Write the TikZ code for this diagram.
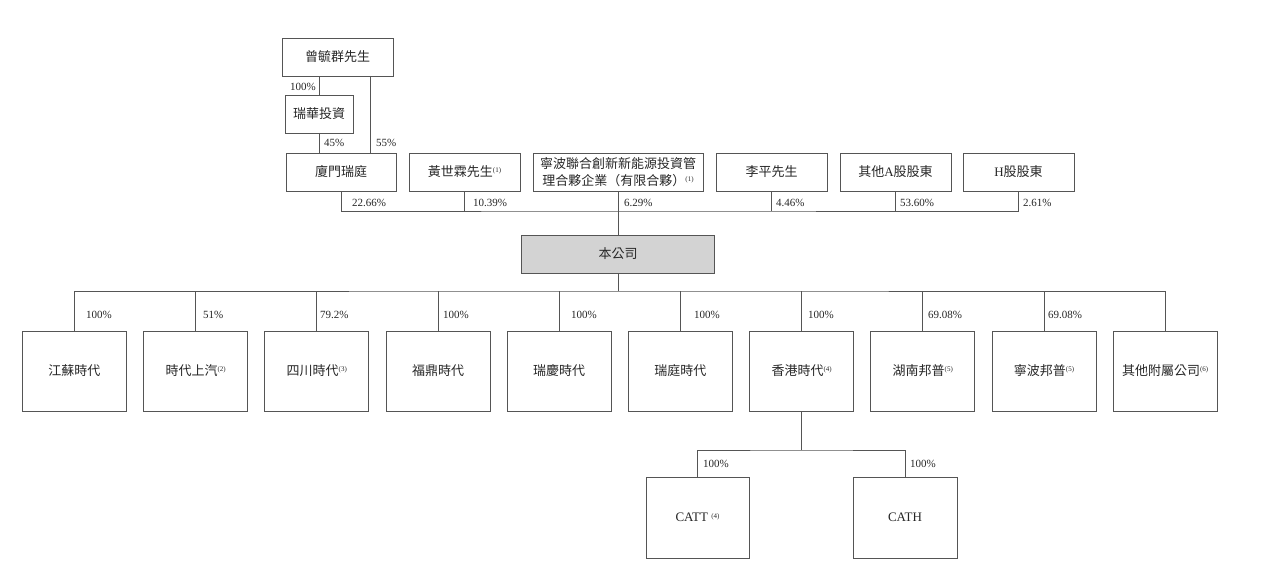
\documentclass[tikz,border=0pt]{standalone}
\usepackage{fontspec}
\setmainfont{Liberation Serif}
\newfontfamily\cjk{Noto Sans CJK TC}
\usetikzlibrary{positioning}
\newcommand{\fnote}[1]{\raisebox{0.6ex}{\rmfamily\fontsize{7}{7}\selectfont(#1)}}
\newcommand{\lat}[1]{{\rmfamily #1}}
\definecolor{linegray}{HTML}{555555}
\definecolor{boxgray}{HTML}{D3D3D3}
\tikzset{
holder/.style={
  draw=linegray,
  line width=0.9pt,
  rectangle,
  inner sep=0pt, outer sep=0pt,
  minimum height=38pt,
  minimum width=111pt, align=center,
  text=black!85,
  font=\cjk\fontsize{13}{17}\selectfont
  },
sub/.style={holder, minimum width=104pt, minimum height=80pt},
pct/.style={inner sep=0pt, anchor=west, text=black!85, font=\fontsize{11}{13}\selectfont},
line/.style={draw=linegray, line width=0.9pt}
}
\begin{document}
\begin{tikzpicture}[x=1pt, y=-1pt]
\useasboundingbox (0,0) rectangle (1280,583);

% shareholders
\node[holder]	(zyq)	at (337.5,57)	{曾毓群先生};
\node[holder, minimum width=68pt]	(rhtz)	at (319,114)	{瑞華投資};
\node[holder, minimum width=110pt]	(xmrt)	at (341,172)	{廈門瑞庭};
\node[holder]	(hsl)	[right=13pt of xmrt]	{黃世霖先生\fnote{1}};
\node[holder, minimum width=170pt]	(nblh)	[right=13pt of hsl]	{寧波聯合創新新能源投資管\\理合夥企業（有限合夥）\fnote{1}};
\node[holder]	(lp)	[right=13pt of nblh]	{李平先生};
\node[holder]	(qta)	[right=13pt of lp]	{其他\lat{A}股股東};
\node[holder]	(hgd)	[right=12pt of qta]	{\lat{H}股股東};

\node[holder, fill=boxgray, minimum width=193pt]	(company)	at (618,254)	{本公司};

% subsidiaries
\node[sub]	(js)	at (74.4,371)	{江蘇時代};
\node[sub]	(sdsq)	[right=17.2pt of js]	{時代上汽\fnote{2}};
\node[sub]	(scsd)	[right=17.2pt of sdsq]	{四川時代\fnote{3}};
\node[sub]	(fdsd)	[right=17.2pt of scsd]	{福鼎時代};
\node[sub]	(rqsd)	[right=17.2pt of fdsd]	{瑞慶時代};
\node[sub]	(rtsd)	[right=17.2pt of rqsd]	{瑞庭時代};
\node[sub]	(xgsd)	[right=17.2pt of rtsd]	{香港時代\fnote{4}};
\node[sub]	(hnbp)	[right=17.2pt of xgsd]	{湖南邦普\fnote{5}};
\node[sub]	(nbbp)	[right=17.2pt of hnbp]	{寧波邦普\fnote{5}};
\node[sub]	(qtfs)	[right=17.2pt of nbbp]	{其他附屬公司\fnote{6}};

\node[sub, minimum width=103pt, minimum height=81pt, font=\fontsize{13}{17}\selectfont]	(catt)	at (697.5,517.5)	{CATT \fnote{4}};
\node[sub, minimum height=81pt, font=\fontsize{13}{17}\selectfont]	(cath)	[right=104pt of catt]	{CATH};

\path (nblh.south) ++(0,20) coordinate (sbar);
\path (company.south) ++(0,18) coordinate (subbar);
\path (xgsd.south) ++(0,39) coordinate (hkbar);

\draw[line] (rhtz.north) -- (rhtz.north |- zyq.south);
\draw[line] ([xshift=32.5pt]zyq.south) -- ([xshift=32.5pt]zyq.south |- xmrt.north);
\draw[line] (rhtz.south) -- (rhtz.south |- xmrt.north);
\draw[line] (xmrt.south) |- (sbar) -| (hgd.south);
\draw[line] (hsl.south) -- (hsl.south |- sbar);
\draw[line] (lp.south) -- (lp.south |- sbar);
\draw[line] (qta.south) -- (qta.south |- sbar);
\draw[line] (nblh.south) -- (company.north);
\draw[line] (company.south) -- (subbar);
\draw[line] (js.north) |- (subbar) -| (qtfs.north);
\draw[line] (sdsq.north) -- (sdsq.north |- subbar);
\draw[line] (scsd.north) -- (scsd.north |- subbar);
\draw[line] (fdsd.north) -- (fdsd.north |- subbar);
\draw[line] (rqsd.north) -- (rqsd.north |- subbar);
\draw[line] (rtsd.north) -- (rtsd.north |- subbar);
\draw[line] (xgsd.north) -- (xgsd.north |- subbar);
\draw[line] (hnbp.north) -- (hnbp.north |- subbar);
\draw[line] (nbbp.north) -- (nbbp.north |- subbar);
\draw[line] (xgsd.south) -- (hkbar);
\draw[line] (catt.north) |- (hkbar) -| (cath.north);

% percentages
\node[pct, anchor=east]	(p1)	at (316,87)	{100\%};
\node[pct]	(p2)	at (324,143)	{45\%};
\node[pct]	(p3)	at (376,143)	{55\%};
\node[pct]	(p4)	at (352,203)	{22.66\%};
\node[pct]	(p5)	at (473,203)	{10.39\%};
\node[pct]	(p6)	at (624,203)	{6.29\%};
\node[pct]	(p7)	at (776,203)	{4.46\%};
\node[pct]	(p8)	at (900,203)	{53.60\%};
\node[pct]	(p9)	at (1023,203)	{2.61\%};
\node[pct]	(s1)	at (86,315)	{100\%};
\node[pct]	(s2)	at (203,315)	{51\%};
\node[pct]	(s3)	at (320,315)	{79.2\%};
\node[pct]	(s4)	at (443,315)	{100\%};
\node[pct]	(s5)	at (571,315)	{100\%};
\node[pct]	(s6)	at (694,315)	{100\%};
\node[pct]	(s7)	at (808,315)	{100\%};
\node[pct]	(s8)	at (928,315)	{69.08\%};
\node[pct]	(s9)	at (1048,315)	{69.08\%};
\node[pct]	(c1)	at (703,464)	{100\%};
\node[pct]	(c2)	at (910,464)	{100\%};
\end{tikzpicture}
\end{document}
